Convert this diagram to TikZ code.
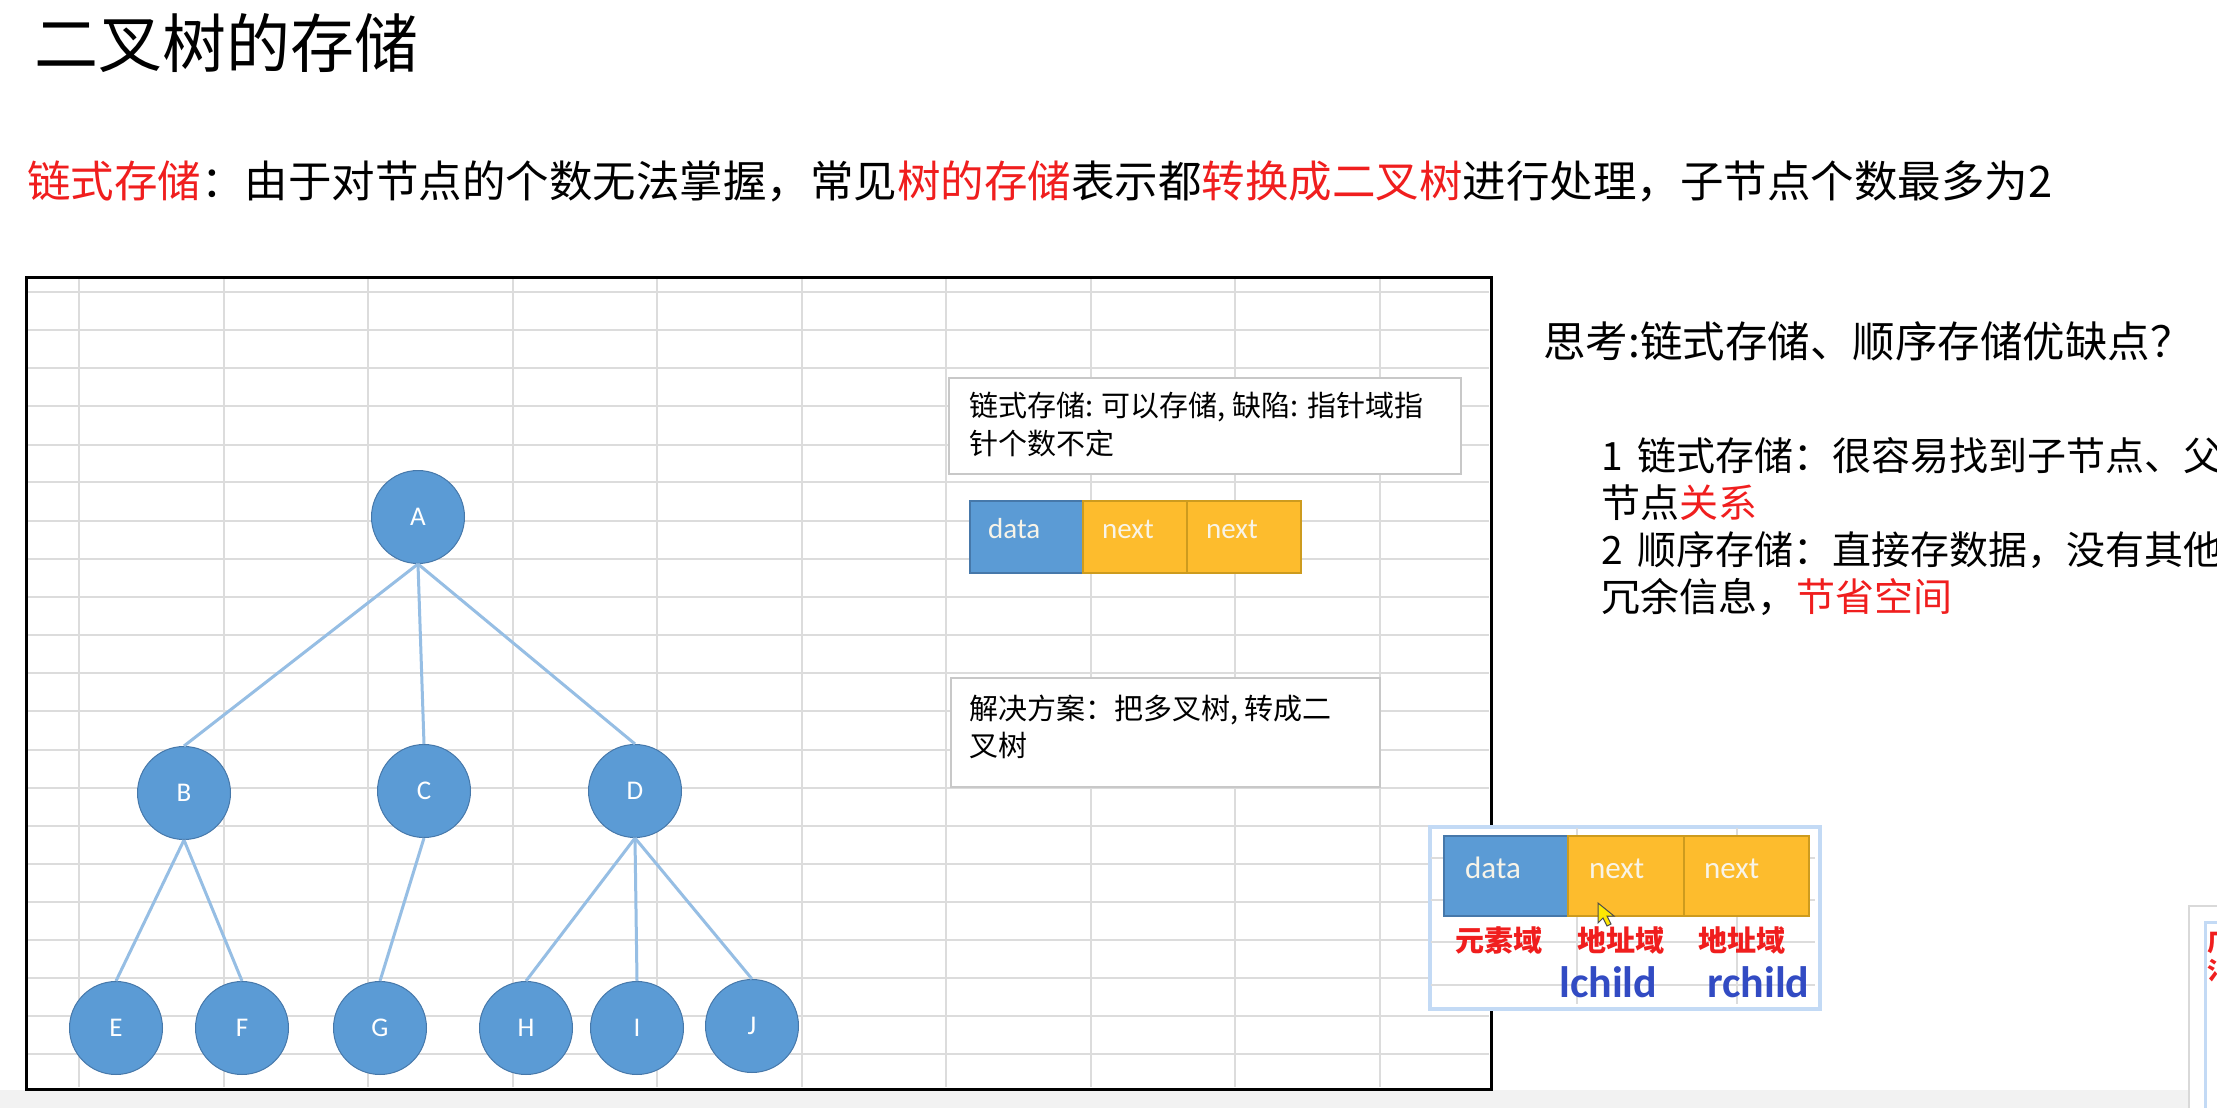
\documentclass[tikz,border=0pt]{standalone}
\usepackage{fontspec}
\setmainfont{Noto Sans CJK SC}
\newfontfamily\lat{Carlito}
\definecolor{nodeblue}{RGB}{91,155,213}
\definecolor{nodeedge}{RGB}{70,120,170}
\definecolor{edgeblue}{RGB}{150,190,228}
\definecolor{cellyellow}{RGB}{253,188,45}
\definecolor{celledge}{RGB}{205,155,30}
\definecolor{gridgray}{RGB}{220,220,220}
\definecolor{boxgray}{RGB}{200,200,200}
\definecolor{hlred}{RGB}{240,30,30}
\definecolor{lblblue}{RGB}{50,75,195}
\definecolor{glow}{RGB}{195,218,245}
\definecolor{celltext}{RGB}{248,244,232}
\begin{document}
\begin{tikzpicture}[x=1pt,y=-1pt,
  gridln/.style={draw=gridgray, line width=2},
  tnode/.style={circle, fill=nodeblue, draw=nodeedge, line width=1, minimum size=93, inner sep=0, text=white, font=\lat\fontsize{27}{30}\selectfont},
  tedge/.style={draw=edgeblue, line width=3},
  infobox/.style={draw=boxgray, fill=white, line width=2, inner sep=0, anchor=north west},
  cellb/.style={fill=nodeblue, draw=nodeedge, line width=1.5, inner sep=0, anchor=north west},
  celly/.style={fill=cellyellow, draw=celledge, line width=1.5, inner sep=0, anchor=north west},
  celltxt/.style={anchor=base west, inner sep=0, text=celltext, font=\lat\fontsize{#1}{32}\selectfont},
  plain/.style={anchor=base west, inner sep=0, font=\fontsize{#1}{#1}\selectfont},
  redlbl/.style={anchor=base west, inner sep=0, text=hlred, font=\fontsize{29}{32}\selectfont\bfseries},
  bluelbl/.style={anchor=base west, inner sep=0, text=lblblue, font=\lat\fontsize{44}{48}\selectfont\bfseries}
]
\useasboundingbox (0,0) rectangle (2217,1108);
\clip (0,0) rectangle (2217,1108);
\fill[white] (0,0) rectangle (2217,1108);
\fill[gray!10] (0,1090) rectangle (2217,1108);

% title and intro
\node[plain=64] (title) at (34,67) {二叉树的存储};
\node[plain=43.5] (intro) at (27,197) {\textcolor{hlred}{链式存储}：由于对节点的个数无法掌握，常见\textcolor{hlred}{树的存储}表示都\textcolor{hlred}{转换成二叉树}进行处理，子节点个数最多为2};

% spreadsheet panel grid
\foreach \x in {79,224,368,513,657,802,946,1091,1235,1380}
  \draw[gridln] (\x,277) -- (\x,1087);
\foreach \y in {292,330,368,406,445,482,521,559,597,635,673,711,750,788,826,864,902,940,978,1016,1054}
  \draw[gridln] (26,\y) -- (1489,\y);
\node[draw, line width=3, inner sep=0, minimum width=1465, minimum height=812, anchor=north west] (panel) at (25,276) {};

% tree
\node[tnode] (A) at (418,517) {A};
\node[tnode] (B) at (184,793) {B};
\node[tnode] (C) at (424,791) {C};
\node[tnode] (D) at (635,791) {D};
\node[tnode] (E) at (116,1028) {E};
\node[tnode] (F) at (242,1028) {F};
\node[tnode] (G) at (380,1028) {G};
\node[tnode] (H) at (526,1028) {H};
\node[tnode] (I) at (637,1028) {I};
\node[tnode] (J) at (752,1026) {J};
\draw[tedge] (A.south) -- (B.north);
\draw[tedge] (A.south) -- (C.north);
\draw[tedge] (A.south) -- (D.north);
\draw[tedge] (B.south) -- (E.north);
\draw[tedge] (B.south) -- (F.north);
\draw[tedge] (C.south) -- (G.north);
\draw[tedge] (D.south) -- (H.north);
\draw[tedge] (D.south) -- (I.north);
\draw[tedge] (D.south) -- (J.north);

% info box 1
\node[infobox, minimum width=512, minimum height=96] (box1) at (948,377) {};
\node[plain=29] (box1a) at (969,416) {链式存储: 可以存储, 缺陷: 指针域指};
\node[plain=29] (box1b) at (969,454) {针个数不定};

% data bar 1
\node[cellb, minimum width=113, minimum height=72] (bar1a) at (969,500) {};
\node[celly, minimum width=104, minimum height=72] (bar1b) at (1082,500) {};
\node[celly, minimum width=114, minimum height=72] (bar1c) at (1186,500) {};
\node[celltxt=29] (bar1at) at (988,538) {data};
\node[celltxt=29] (bar1bt) at (1102,538) {next};
\node[celltxt=29] (bar1ct) at (1206,538) {next};

% info box 2
\node[infobox, minimum width=429, minimum height=109] (box2) at (950,677) {};
\node[plain=29] (box2a) at (969,719) {解决方案：把多叉树, 转成二};
\node[plain=29] (box2b) at (969,756) {叉树};

% right side text
\node[plain=42.5] (think) at (1543,357) {思考:链式存储、顺序存储优缺点？};
\node[plain=39] (ans1) at (1601,470) {1\kern0.37em 链式存储：很容易找到子节点、父};
\node[plain=39] (ans2) at (1601,517) {节点\textcolor{hlred}{关系}};
\node[plain=39] (ans3) at (1601,564) {2\kern0.37em 顺序存储：直接存数据，没有其他};
\node[plain=39] (ans4) at (1601,611) {冗余信息，\textcolor{hlred}{节省空间}};

% popup
\node[draw=glow, line width=4, fill=white, inner sep=0, minimum width=390, minimum height=182, anchor=north west] (popup) at (1428,825) {};
\foreach \x in {1577,1737}
  \draw[gridln, line width=1.5] (\x,828) -- (\x,1004);
\foreach \y in {858,900,942,985}
  \draw[gridln, line width=1.5] (1431,\y) -- (1815,\y);
\node[cellb, minimum width=124, minimum height=80] (bar2a) at (1443,835) {};
\node[celly, minimum width=116, minimum height=80] (bar2b) at (1567,835) {};
\node[celly, minimum width=125, minimum height=80] (bar2c) at (1683,835) {};
\node[celltxt=31] (bar2at) at (1465,878) {data};
\node[celltxt=31] (bar2bt) at (1589,878) {next};
\node[celltxt=31] (bar2ct) at (1704,878) {next};
\node[redlbl] (lbl1) at (1455,951) {元素域};
\node[redlbl] (lbl2) at (1577,951) {地址域};
\node[redlbl] (lbl3) at (1698,951) {地址域};
\node[bluelbl] (lch) at (1559,997) {lchild};
\node[bluelbl] (rch) at (1707,997) {rchild};

% mouse cursor
\filldraw[fill=yellow!90!orange, draw=black!70, line width=1]
  (1598,903) -- (1598,923) -- (1603,918) -- (1607,926) -- (1611,924) -- (1607,916) -- (1614,916) -- cycle;

% far right popup (cut off)
\node[draw=gray!30, fill=white, line width=2, inner sep=0, minimum width=60, minimum height=230, anchor=north west] (popup2) at (2188,905) {};
\draw[draw=glow, line width=3] (2205,1110) -- (2205,922) -- (2230,922);
\node[anchor=base west, inner sep=0, text=hlred, font=\fontsize{24}{26}\selectfont\bfseries] (frag1) at (2207,951) {厂};
\node[anchor=base west, inner sep=0, text=hlred, font=\fontsize{24}{26}\selectfont\bfseries] (frag2) at (2207,979) {氵};
\end{tikzpicture}
\end{document}
